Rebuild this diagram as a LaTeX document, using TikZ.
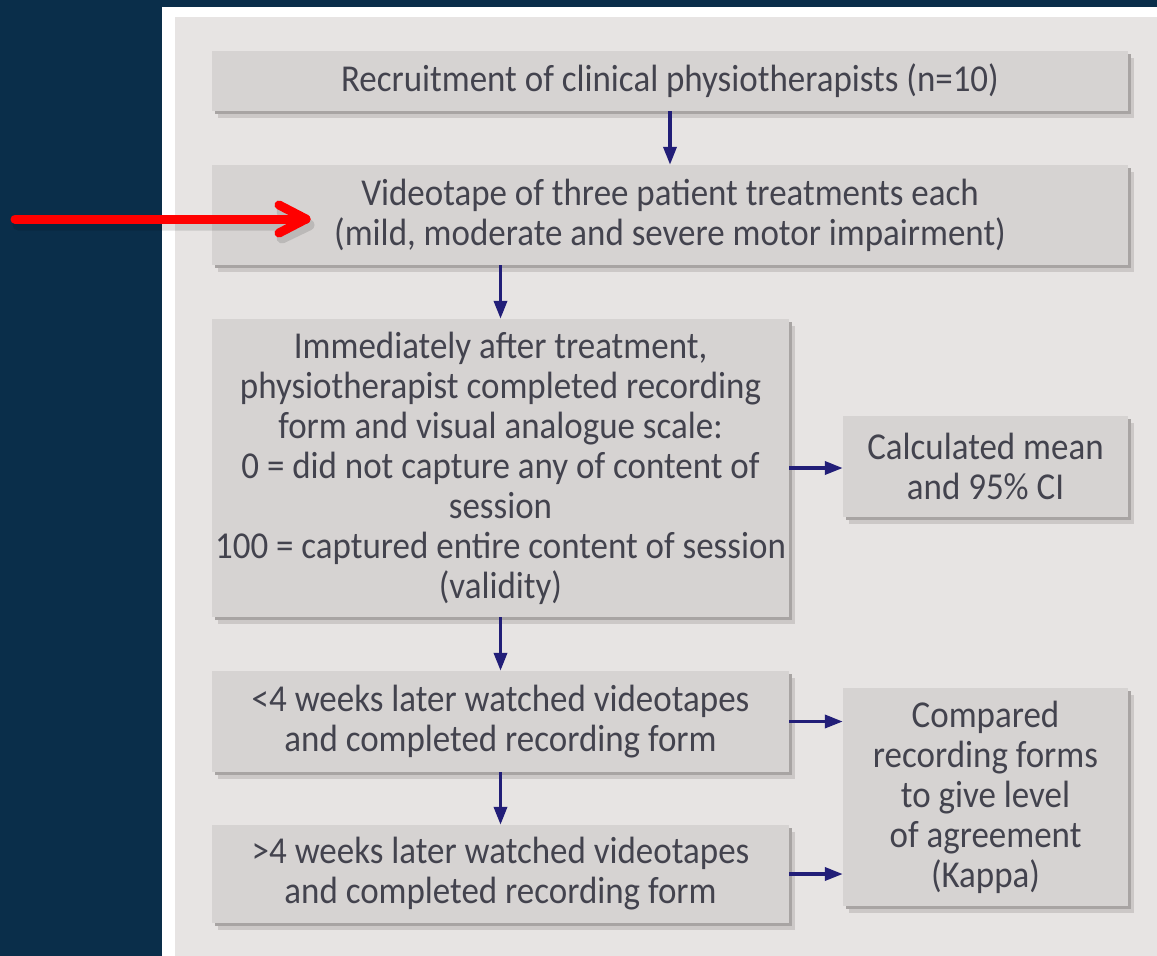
\documentclass[tikz,border=0pt]{standalone}
\usepackage{fontspec}
\setmainfont{Carlito}[FakeStretch=0.92]
\usetikzlibrary{arrows.meta,shadows}
\definecolor{navybg}{HTML}{0A2E4A}
\definecolor{panel}{HTML}{E7E4E3}
\definecolor{boxfill}{HTML}{D6D3D2}
\definecolor{shdark}{HTML}{A8A4A3}
\definecolor{shlight}{HTML}{CCC8C7}
\definecolor{txt}{HTML}{43434E}
\definecolor{arrnavy}{HTML}{221E78}
\begin{document}
\begin{tikzpicture}[x=1pt,y=-1pt,
  fbox/.style={fill=boxfill, text=txt, align=center, inner sep=0pt,
    font=\fontsize{38}{40}\selectfont,
    general shadow={fill=shlight, shadow xshift=6pt, shadow yshift=-7pt},
    general shadow={fill=shdark, shadow xshift=3pt, shadow yshift=-3pt}},
  conn/.style={draw=arrnavy, line width=3.5pt, -{Triangle[length=18pt,width=13pt]}},
  redarrow/.style={draw=red, line width=9pt, line cap=round, line join=round}
]
\useasboundingbox (0,0) rectangle (1157,956);
\fill[navybg] (0,0) rectangle (1157,956);
\fill[white] (162,7) rectangle (1157,956);
\fill[panel] (175,17) rectangle (1157,956);

\node[fbox, minimum width=916pt, minimum height=60pt] (b1) at (670,81)
  {Recruitment of clinical physiotherapists (n=10)};
\node[fbox, minimum width=916pt, minimum height=100pt] (b2) at (670,215)
  {Videotape of three patient treatments each\\(mild, moderate and severe motor impairment)};
\node[fbox, minimum width=577pt, minimum height=298pt] (b3) at (500.5,468)
  {Immediately after treatment,\\physiotherapist completed recording\\form and visual analogue scale:\\0 = did not capture any of content of\\session\\100 = captured entire content of session\\(validity)};
\node[fbox, minimum width=285pt, minimum height=101pt] (b4) at (985.5,466.5)
  {Calculated mean\\and 95\% CI};
\node[fbox, minimum width=577pt, minimum height=101pt] (b5) at (500.5,721.5)
  {<4 weeks later watched videotapes\\and completed recording form};
\node[fbox, minimum width=577pt, minimum height=98pt] (b6) at (500.5,874)
  {>4 weeks later watched videotapes\\and completed recording form};
\node[fbox, minimum width=285pt, minimum height=218pt] (b7) at (985.5,797)
  {Compared\\recording forms\\to give level\\of agreement\\(Kappa)};

\draw[conn] (b1.south) -- (b2.north -| b1.south);
\draw[conn] (b3.north |- b2.south) -- (b3.north);
\draw[conn] (b3.south) -- (b5.north);
\draw[conn] (b5.south) -- (b6.north);
\draw[conn] (b3.east) -- (b3.east -| b4.west);
\draw[conn] (b5.east) -- (b5.east -| b7.west);
\draw[conn] (b6.east) -- (b6.east -| b7.west);

\coordinate (redstart) at (15,219);
\coordinate (redtip) at (306,219);
\draw[redarrow, draw=black, opacity=0.12, line width=11pt] ([shift={(3,6)}]redstart) -- ([shift={(3,6)}]redtip)
  ([shift={(3,6)}]279,206) -- ([shift={(3,6)}]redtip) -- ([shift={(3,6)}]279,232);
\draw[redarrow] (redstart) -- (redtip);
\draw[redarrow] (279,205) -- (redtip) -- (279,233);
\end{tikzpicture}
\end{document}
